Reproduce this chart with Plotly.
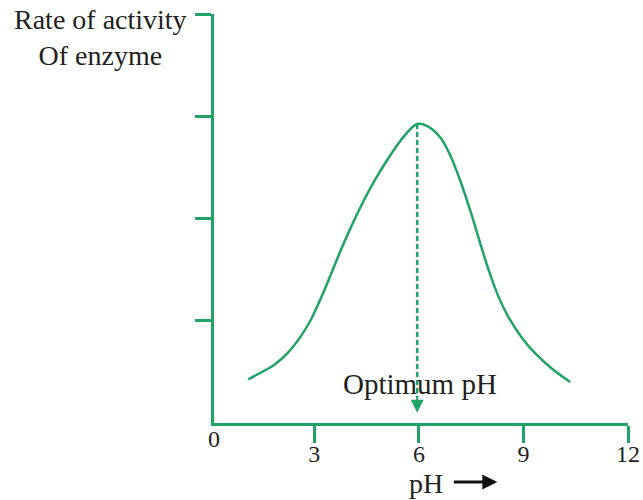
import plotly.graph_objects as go

# Data
ph_values = [1.10, 1.47, 1.85, 2.23, 2.61, 2.90, 3.18, 3.47, 3.74, 3.95,
             4.33, 4.71, 5.09, 5.47, 5.76, 5.95, 6.24, 6.62, 6.90, 7.19,
             7.48, 7.76, 8.00, 8.29, 8.57, 8.96, 9.34, 9.82, 10.34]
activity = [0.427, 0.494, 0.570, 0.684, 0.847, 1.010, 1.215, 1.450, 1.675, 1.840,
            2.115, 2.360, 2.572, 2.760, 2.875, 2.924, 2.904, 2.790, 2.616, 2.367,
            2.071, 1.757, 1.498, 1.231, 1.035, 0.832, 0.680, 0.531, 0.401]
x_ticks = [3, 6, 9, 12]
x_tick_labels = ["3", "6", "9", "12"]
y_ticks = [1, 2, 3, 4]

GREEN = "#22a366"
TEXT = "#231f20"
FONT = "Liberation Serif, Times New Roman, serif"

peak_i = activity.index(max(activity))
opt_ph = ph_values[peak_i]
opt_val = activity[peak_i]

fig = go.Figure()
fig.add_trace(go.Scatter(
    x=ph_values, y=activity, mode="lines",
    line=dict(color=GREEN, width=2.5, shape="spline", smoothing=1.0),
    hoverinfo="skip", showlegend=False,
))
# dashed drop line from the optimum
fig.add_trace(go.Scatter(
    x=[opt_ph, opt_ph], y=[opt_val, 0.25], mode="lines",
    line=dict(color=GREEN, width=2.5, dash="5px,3px"),
    hoverinfo="skip", showlegend=False, cliponaxis=False,
))

fig.add_annotation(x=opt_ph, y=0.1, ax=opt_ph, ay=0.28, xref="x", yref="y",
                   axref="x", ayref="y", text="", showarrow=True,
                   arrowhead=2, arrowsize=1.3, arrowwidth=2, arrowcolor=GREEN,
                   standoff=0)
fig.add_annotation(x=opt_ph, y=0.38, xref="x", yref="y", text="Optimum pH",
                   showarrow=False, font=dict(family=FONT, size=29, color=TEXT),
                   xanchor="center", yanchor="middle", xshift=3)
fig.add_annotation(x=-0.2735, y=0.943, xref="paper", yref="paper",
                   text="Rate of activity<br>Of enzyme", showarrow=False,
                   align="center", xanchor="center", yanchor="middle",
                   font=dict(family=FONT, size=28, color=TEXT))
fig.add_annotation(x=0, y=0, xref="paper", yref="paper", text="0", showarrow=False,
                   xanchor="center", yanchor="top", yshift=-1, xshift=0,
                   font=dict(family=FONT, size=24, color=TEXT))
# x-axis title "pH" with a black arrow
fig.add_annotation(x=6.19, y=-0.147, xref="x", yref="paper", text="pH",
                   showarrow=False, xanchor="center", yanchor="middle",
                   font=dict(family=FONT, size=28, color=TEXT))
fig.add_annotation(x=8.25, y=-0.144, ax=6.96, ay=0, xref="x", yref="paper",
                   axref="x", ayref="pixel", text="", showarrow=True,
                   arrowhead=2, arrowsize=1.0, arrowwidth=3, arrowcolor="#111111",
                   standoff=0)

fig.update_layout(
    width=643, height=500,
    margin=dict(l=214, r=15, t=14, b=77, autoexpand=False),
    paper_bgcolor="white", plot_bgcolor="white",
    font=dict(family=FONT, color=TEXT),
)
fig.update_xaxes(range=[0.12, 12], showgrid=False, zeroline=False, automargin=False,
                 showline=True, linecolor=GREEN, linewidth=2.5,
                 tickvals=x_ticks, ticktext=x_tick_labels,
                 ticks="outside", ticklen=17, tickwidth=3, tickcolor=GREEN,
                 ticklabelstandoff=-10,
                 tickfont=dict(family=FONT, size=24, color=TEXT))
fig.update_yaxes(range=[0, 4], showgrid=False, zeroline=False, automargin=False,
                 showline=True, linecolor=GREEN, linewidth=2.5,
                 tickvals=y_ticks, showticklabels=False,
                 ticks="outside", ticklen=16, tickwidth=3, tickcolor=GREEN)

fig.write_html("out.html", config={"displayModeBar": False},
               post_script="document.body.style.margin='0';")
